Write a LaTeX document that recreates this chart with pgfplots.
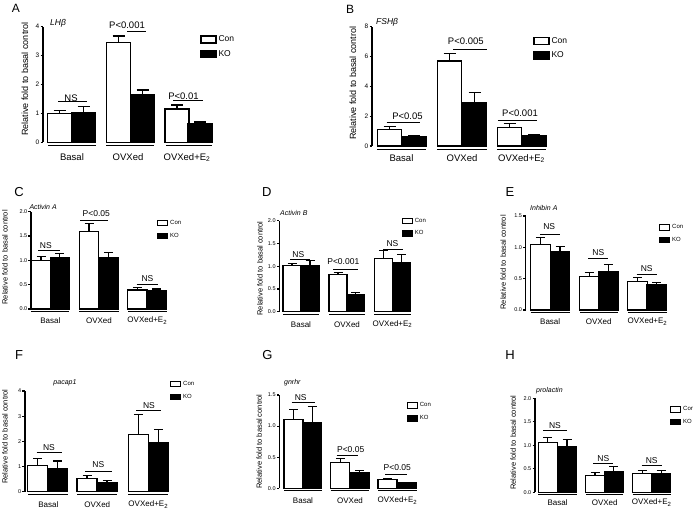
\documentclass[border=0pt]{standalone}
\usepackage{fontspec}
\setmainfont{Liberation Sans}
\usepackage{pgfplots}
\pgfplotsset{compat=1.18}
\newcommand{\fs}[1]{\fontsize{#1}{#1}\selectfont}
\pgfplotsset{
  prism/.style={
    scale only axis, clip=false, enlargelimits=false,
    x=1pt, ymin=0,
    axis y line*=left, axis x line*=bottom,
    x axis line style={draw=none},
    xtick style={draw=none},
    ytick style={black},
    tick align=outside, major tick length=2.5pt,
    /pgf/number format/assume math mode=true,
    ybar,
    yticklabel style={inner sep=1pt},
    legend cell align=left,
    legend style={draw=none, fill=none, inner sep=0pt, anchor=north west,
      /tikz/every even column/.append style={column sep=3pt}},
  },
  big/.style={
    y axis line style={line width=1.3pt}, ytick style={line width=1.3pt},
    yticklabel style={font=\fs{6.5}},
    xticklabel style={font=\fs{9.5}},
    ylabel style={font=\fs{9}},
    legend style={font=\fs{8.5}, row sep=3pt},
    every axis plot/.append style={line width=1.3pt},
    legend image code/.code={\draw[##1,/tikz/.cd,line width=1.3pt] (0pt,-3.5pt) rectangle (15pt,3.5pt);},
    /pgfplots/error bars/error mark options={rotate=90, mark size=6pt, line width=1.3pt, black},
    /pgfplots/error bars/error bar style={line width=1.3pt, black},
  },
  small/.style={
    y axis line style={line width=1.1pt}, ytick style={line width=1.1pt},
    yticklabel style={font=\fs{5.5}},
    xticklabel style={font=\fs{8}},
    ylabel style={font=\fs{7.5}},
    legend style={font=\fs{6}, row sep=3pt},
    every axis plot/.append style={line width=1.1pt},
    legend image code/.code={\draw[##1,/tikz/.cd,line width=1pt] (0pt,-2.7pt) rectangle (10pt,2.7pt);},
    /pgfplots/error bars/error mark options={rotate=90, mark size=4.5pt, line width=1.1pt, black},
    /pgfplots/error bars/error bar style={line width=1.1pt, black},
  },
  con/.style={fill=white, draw=black, bar shift=0pt, error bars/y dir=plus, error bars/y explicit},
  ko/.style={fill=black, draw=black, bar shift=0pt, error bars/y dir=plus, error bars/y explicit},
}
\begin{document}
\begin{tikzpicture}
\path[use as bounding box] (0,0) rectangle (693pt,509pt);
% ---------------- A
\begin{axis}[prism, big, at={(43pt,366.7pt)}, anchor=south west,
  xmin=43, xmax=215, ymax=4, y=28.9pt, ytick={0,1,2,3,4},
  bar width=24pt,
  xtick={72,128,187}, xticklabels={Basal,OVXed,OVXed+E\textsubscript{2}},
  xticklabel style={anchor=center, yshift=-12.7pt},
  ylabel={Relative fold to basal control}, ylabel style={at={(axis cs:25,2.19)}, anchor=center},
  legend style={at={(axis cs:200,3.76)}}]
\addplot[con] coordinates {(59.5,1.00) +- (0,0.09) (118.5,3.45) +- (0,0.23) (177,1.15) +- (0,0.14)};
\addlegendentry{Con}
\addplot[ko] coordinates {(83.5,1.03) +- (0,0.20) (142.5,1.66) +- (0,0.15) (200,0.66) +- (0,0.04)};
\addlegendentry{KO}
\draw[line width=1.3pt] ([yshift=-3.5pt]axis cs:48,0) -- ([yshift=-3.5pt]axis cs:96,0);
\draw[line width=1.3pt] ([yshift=-3.5pt]axis cs:106,0) -- ([yshift=-3.5pt]axis cs:154,0);
\draw[line width=1.3pt] ([yshift=-3.5pt]axis cs:166,0) -- ([yshift=-3.5pt]axis cs:212,0);
\draw[line width=1.2pt] (axis cs:58,1.41) -- (axis cs:87,1.41);
\node[font=\fs{9.5}] at (axis cs:71,1.52) {NS};
\draw[line width=1.2pt] (axis cs:127,3.82) -- (axis cs:146,3.82);
\node[font=\fs{9.5}] at (axis cs:127,4.06) {P<0.001};
\draw[line width=1.2pt] (axis cs:173,1.46) -- (axis cs:203,1.46);
\node[font=\fs{9.5}] at (axis cs:183.5,1.6) {P<0.01};
\node[anchor=west, font=\fs{8.5}\itshape, inner sep=0pt] at (axis cs:50,4.13) {LHβ};
\node[font=\fs{12}] at (axis cs:16,4.65) {A};
\end{axis}
% ---------------- B
\begin{axis}[prism, big, at={(372pt,363pt)}, anchor=south west,
  xmin=372, xmax=550, ymax=8, y=14.92pt, ytick={0,2,4,6,8},
  bar width=24.5pt,
  xtick={401.5,462,521.5}, xticklabels={Basal,OVXed,OVXed+E\textsubscript{2}},
  xticklabel style={anchor=center, yshift=-10pt},
  ylabel={Relative fold to basal control}, ylabel style={at={(axis cs:353,4.2)}, anchor=center},
  legend style={at={(axis cs:533,7.43)}}]
\addplot[con] coordinates {(389.5,1.12) +- (0,0.18) (449.5,5.7) +- (0,0.5) (509.5,1.25) +- (0,0.25)};
\addlegendentry{Con}
\addplot[ko] coordinates {(414,0.62) +- (0,0.06) (474.5,2.9) +- (0,0.7) (534,0.72) +- (0,0.06)};
\addlegendentry{KO}
\draw[line width=1.3pt] ([yshift=-3.3pt]axis cs:377,0) -- ([yshift=-3.3pt]axis cs:426,0);
\draw[line width=1.3pt] ([yshift=-3.3pt]axis cs:437,0) -- ([yshift=-3.3pt]axis cs:487,0);
\draw[line width=1.3pt] ([yshift=-3.3pt]axis cs:497,0) -- ([yshift=-3.3pt]axis cs:546,0);
\draw[line width=1.2pt] (axis cs:386.7,1.56) -- (axis cs:420,1.56);
\node[font=\fs{9.5}] at (axis cs:407.5,2.01) {P<0.05};
\draw[line width=1.2pt] (axis cs:453,6.48) -- (axis cs:487,6.48);
\node[font=\fs{9.5}] at (axis cs:465.8,6.99) {P<0.005};
\draw[line width=1.2pt] (axis cs:498,1.70) -- (axis cs:537,1.70);
\node[font=\fs{9.5}] at (axis cs:520,2.19) {P<0.001};
\node[anchor=west, font=\fs{8.5}\itshape, inner sep=0pt] at (axis cs:376,8.26) {FSHβ};
\node[font=\fs{12}] at (axis cs:350,9.18) {B};
\end{axis}
% ---------------- C
\begin{axis}[prism, small, at={(31pt,200pt)}, anchor=south west,
  xmin=31, xmax=170, ymax=2, y=48.67pt, ytick={0,0.5,1,1.5,2},
  yticklabel style={/pgf/number format/.cd, fixed, fixed zerofill, precision=1},
  bar width=19.3pt,
  xtick={50.3,99,147.3}, xticklabels={Basal,OVXed,OVXed+E\textsubscript{2}},
  xticklabel style={anchor=center, yshift=-9pt},
  ylabel={Relative fold to basal control}, ylabel style={at={(axis cs:5,1.06)}, anchor=center},
  legend style={at={(axis cs:157,1.87)}}]
\addplot[con] coordinates {(41,1.00) +- (0,0.07) (89,1.59) +- (0,0.17) (137.3,0.39) +- (0,0.05)};
\addlegendentry{Con}
\addplot[ko] coordinates {(59.7,1.05) +- (0,0.09) (108.7,1.05) +- (0,0.11) (156.7,0.37) +- (0,0.04)};
\addlegendentry{KO}
\draw[line width=1.1pt] ([yshift=-2.7pt]axis cs:31,0) -- ([yshift=-2.7pt]axis cs:69.3,0);
\draw[line width=1.1pt] ([yshift=-2.7pt]axis cs:79.3,0) -- ([yshift=-2.7pt]axis cs:118.7,0);
\draw[line width=1.1pt] ([yshift=-2.7pt]axis cs:128,0) -- ([yshift=-2.7pt]axis cs:166.7,0);
\draw[line width=1pt] (axis cs:38.3,1.2) -- (axis cs:60,1.2);
\node[font=\fs{8.5}] at (axis cs:45.8,1.31) {NS};
\draw[line width=1pt] (axis cs:80,1.81) -- (axis cs:108.3,1.81);
\node[font=\fs{8.5}] at (axis cs:96.3,1.97) {P<0.05};
\draw[line width=1pt] (axis cs:136.7,0.51) -- (axis cs:158.3,0.51);
\node[font=\fs{8.5}] at (axis cs:147.5,0.63) {NS};
\node[anchor=west, font=\fs{7}\itshape, inner sep=0pt] at (axis cs:29.3,2.1) {Activin A};
\node[font=\fs{13}] at (axis cs:19,2.40) {C};
\end{axis}
% ---------------- D
\begin{axis}[prism, small, at={(279.3pt,197.3pt)}, anchor=south west,
  xmin=279.3, xmax=415, ymax=2, y=45.5pt, ytick={0,0.5,1,1.5,2},
  yticklabel style={/pgf/number format/.cd, fixed, fixed zerofill, precision=1},
  bar width=18pt,
  xtick={301,347,392.5}, xticklabels={Basal,OVXed,OVXed+E\textsubscript{2}},
  xticklabel style={anchor=center, yshift=-10pt},
  ylabel={Relative fold to basal control}, ylabel style={at={(axis cs:260,0.95)}, anchor=center},
  legend style={at={(axis cs:401.7,2.11)}}]
\addplot[con] coordinates {(292,1.02) +- (0,0.03) (338,0.82) +- (0,0.05) (383.3,1.16) +- (0,0.18)};
\addlegendentry{Con}
\addplot[ko] coordinates {(310,1.02) +- (0,0.10) (355.8,0.37) +- (0,0.06) (401.7,1.08) +- (0,0.17)};
\addlegendentry{KO}
\draw[line width=1.1pt] ([yshift=-2.5pt]axis cs:283,0) -- ([yshift=-2.5pt]axis cs:319,0);
\draw[line width=1.1pt] ([yshift=-2.5pt]axis cs:329,0) -- ([yshift=-2.5pt]axis cs:365,0);
\draw[line width=1.1pt] ([yshift=-2.5pt]axis cs:374,0) -- ([yshift=-2.5pt]axis cs:411,0);
\draw[line width=1pt] (axis cs:290,1.15) -- (axis cs:310,1.15);
\node[font=\fs{8.5}] at (axis cs:298.3,1.26) {NS};
\draw[line width=1pt] (axis cs:333.3,0.93) -- (axis cs:358.3,0.93);
\node[font=\fs{8.5}] at (axis cs:343.3,1.11) {P<0.001};
\draw[line width=1pt] (axis cs:383.3,1.37) -- (axis cs:403.3,1.37);
\node[font=\fs{8.5}] at (axis cs:392.5,1.49) {NS};
\node[anchor=west, font=\fs{7}\itshape, inner sep=0pt] at (axis cs:280,2.16) {Activin B};
\node[font=\fs{13}] at (axis cs:266.7,2.63) {D};
\end{axis}
% ---------------- E
\begin{axis}[prism, small, at={(525.7pt,199pt)}, anchor=south west,
  xmin=525.7, xmax=670, ymax=1.5, y=62.67pt, ytick={0,0.5,1,1.5},
  yticklabel style={/pgf/number format/.cd, fixed, fixed zerofill, precision=1},
  bar width=19.5pt,
  xtick={550.2,598.7,647.5}, xticklabels={Basal,OVXed,OVXed+E\textsubscript{2}},
  xticklabel style={anchor=center, yshift=-9.3pt},
  ylabel={Relative fold to basal control}, ylabel style={at={(axis cs:503.3,0.76)}, anchor=center},
  legend style={at={(axis cs:659,1.40)}}]
\addplot[con] coordinates {(540.3,1.05) +- (0,0.11) (589.2,0.54) +- (0,0.06) (637.5,0.45) +- (0,0.07)};
\addlegendentry{Con}
\addplot[ko] coordinates {(560,0.93) +- (0,0.09) (608.3,0.61) +- (0,0.12) (656.7,0.41) +- (0,0.03)};
\addlegendentry{KO}
\draw[line width=1.1pt] ([yshift=-2.7pt]axis cs:530.7,0) -- ([yshift=-2.7pt]axis cs:570,0);
\draw[line width=1.1pt] ([yshift=-2.7pt]axis cs:580,0) -- ([yshift=-2.7pt]axis cs:618.3,0);
\draw[line width=1.1pt] ([yshift=-2.7pt]axis cs:628.3,0) -- ([yshift=-2.7pt]axis cs:666.7,0);
\draw[line width=1pt] (axis cs:540,1.21) -- (axis cs:560,1.21);
\node[font=\fs{8.5}] at (axis cs:549.2,1.33) {NS};
\draw[line width=1pt] (axis cs:588.3,0.82) -- (axis cs:608.3,0.82);
\node[font=\fs{8.5}] at (axis cs:598.3,0.91) {NS};
\draw[line width=1pt] (axis cs:636.7,0.57) -- (axis cs:656.7,0.57);
\node[font=\fs{8.5}] at (axis cs:646.7,0.665) {NS};
\node[anchor=west, font=\fs{7}\itshape, inner sep=0pt] at (axis cs:530,1.62) {Inhibin A};
\node[font=\fs{13}] at (axis cs:510,1.88) {E};
\end{axis}
% ---------------- F
\begin{axis}[prism, small, at={(25pt,17.3pt)}, anchor=south west,
  xmin=25, xmax=172, ymax=4, y=25.17pt, ytick={0,1,2,3,4},
  bar width=20pt,
  xtick={48.3,97.3,148.3}, xticklabels={Basal,OVXed,OVXed+E\textsubscript{2}},
  xticklabel style={anchor=center, yshift=-10.3pt},
  ylabel={Relative fold to basal control}, ylabel style={at={(axis cs:5,2.19)}, anchor=center},
  legend style={at={(axis cs:170,4.47)}}]
\addplot[con] coordinates {(37.8,1.05) +- (0,0.27) (87,0.53) +- (0,0.12) (138.3,2.28) +- (0,0.78)};
\addlegendentry{Con}
\addplot[ko] coordinates {(57.8,0.93) +- (0,0.29) (107,0.38) +- (0,0.08) (158.3,1.97) +- (0,0.51)};
\addlegendentry{KO}
\draw[line width=1.1pt] ([yshift=-2.5pt]axis cs:28.3,0) -- ([yshift=-2.5pt]axis cs:68.3,0);
\draw[line width=1.1pt] ([yshift=-2.5pt]axis cs:77.3,0) -- ([yshift=-2.5pt]axis cs:117.3,0);
\draw[line width=1.1pt] ([yshift=-2.5pt]axis cs:128.3,0) -- ([yshift=-2.5pt]axis cs:168.3,0);
\draw[line width=1pt] (axis cs:36.7,1.56) -- (axis cs:61.7,1.56);
\node[font=\fs{8.5}] at (axis cs:49,1.76) {NS};
\draw[line width=1pt] (axis cs:85,0.79) -- (axis cs:111.7,0.79);
\node[font=\fs{8.5}] at (axis cs:98.3,1.06) {NS};
\draw[line width=1pt] (axis cs:136,3.22) -- (axis cs:161,3.22);
\node[font=\fs{8.5}] at (axis cs:149,3.44) {NS};
\node[anchor=west, font=\fs{7}\itshape, inner sep=0pt] at (axis cs:53.3,4.31) {pacap1};
\node[font=\fs{13}] at (axis cs:19,5.43) {F};
\end{axis}
% ---------------- G
\begin{axis}[prism, small, at={(279.3pt,20.7pt)}, anchor=south west,
  xmin=279.3, xmax=420, ymax=1.5, y=62.2pt, ytick={0,0.5,1,1.5},
  yticklabel style={/pgf/number format/.cd, fixed, fixed zerofill, precision=1},
  bar width=19pt,
  xtick={303,350,397.5}, xticklabels={Basal,OVXed,OVXed+E\textsubscript{2}},
  xticklabel style={anchor=center, yshift=-10pt},
  ylabel={Relative fold to basal control}, ylabel style={at={(axis cs:259.3,0.75)}, anchor=center},
  legend style={at={(axis cs:406.7,1.41)}}]
\addplot[con] coordinates {(293.5,1.10) +- (0,0.16) (340.3,0.42) +- (0,0.06) (387.5,0.14) +- (0,0.015)};
\addlegendentry{Con}
\addplot[ko] coordinates {(312.2,1.06) +- (0,0.26) (359.7,0.25) +- (0,0.03) (406.7,0.086) +- (0,0.014)};
\addlegendentry{KO}
\draw[line width=1.1pt] ([yshift=-2.5pt]axis cs:284.3,0) -- ([yshift=-2.5pt]axis cs:321.7,0);
\draw[line width=1.1pt] ([yshift=-2.5pt]axis cs:330.7,0) -- ([yshift=-2.5pt]axis cs:369.3,0);
\draw[line width=1.1pt] ([yshift=-2.5pt]axis cs:378.3,0) -- ([yshift=-2.5pt]axis cs:416.7,0);
\draw[line width=1pt] (axis cs:291.7,1.38) -- (axis cs:315,1.38);
\node[font=\fs{8.5}] at (axis cs:300.7,1.46) {NS};
\draw[line width=1pt] (axis cs:336.7,0.52) -- (axis cs:358.3,0.52);
\node[font=\fs{8.5}] at (axis cs:350.7,0.63) {P<0.05};
\draw[line width=1pt] (axis cs:385,0.225) -- (axis cs:406.7,0.225);
\node[font=\fs{8.5}] at (axis cs:397.3,0.34) {P<0.05};
\node[anchor=west, font=\fs{7}\itshape, inner sep=0pt] at (axis cs:284,1.69) {gnrhr};
\node[font=\fs{13}] at (axis cs:267.5,2.14) {G};
\end{axis}
% ---------------- H
\begin{axis}[prism, small, at={(535pt,16.7pt)}, anchor=south west,
  xmin=535, xmax=675, ymax=2, y=47pt, ytick={0,0.5,1,1.5,2},
  yticklabel style={/pgf/number format/.cd, fixed, fixed zerofill, precision=1},
  bar width=19pt,
  xtick={557.5,604.7,651.7}, xticklabels={Basal,OVXed,OVXed+E\textsubscript{2}},
  xticklabel style={anchor=center, yshift=-7.7pt},
  ylabel={Relative fold to basal control}, ylabel style={at={(axis cs:513.3,1.06)}, anchor=center},
  legend style={at={(axis cs:670,1.87)}}]
\addplot[con] coordinates {(547.8,1.06) +- (0,0.11) (595,0.35) +- (0,0.07) (642.2,0.40) +- (0,0.06)};
\addlegendentry{Con}
\addplot[ko] coordinates {(567,0.97) +- (0,0.16) (613.7,0.45) +- (0,0.10) (661.2,0.40) +- (0,0.06)};
\addlegendentry{KO}
\draw[line width=1.1pt] ([yshift=-1.8pt]axis cs:538.3,0) -- ([yshift=-1.8pt]axis cs:576.7,0);
\draw[line width=1.1pt] ([yshift=-1.8pt]axis cs:586,0) -- ([yshift=-1.8pt]axis cs:623.3,0);
\draw[line width=1.1pt] ([yshift=-1.8pt]axis cs:632.7,0) -- ([yshift=-1.8pt]axis cs:670.7,0);
\draw[line width=1pt] (axis cs:543.3,1.31) -- (axis cs:566.7,1.31);
\node[font=\fs{8.5}] at (axis cs:555,1.41) {NS};
\draw[line width=1pt] (axis cs:593.3,0.62) -- (axis cs:613.3,0.62);
\node[font=\fs{8.5}] at (axis cs:603.3,0.72) {NS};
\draw[line width=1pt] (axis cs:641.7,0.56) -- (axis cs:661.7,0.56);
\node[font=\fs{8.5}] at (axis cs:651.7,0.67) {NS};
\node[anchor=west, font=\fs{7}\itshape, inner sep=0pt] at (axis cs:536,2.16) {prolactin};
\node[font=\fs{13}] at (axis cs:510,2.92) {H};
\end{axis}
\end{tikzpicture}
\end{document}
